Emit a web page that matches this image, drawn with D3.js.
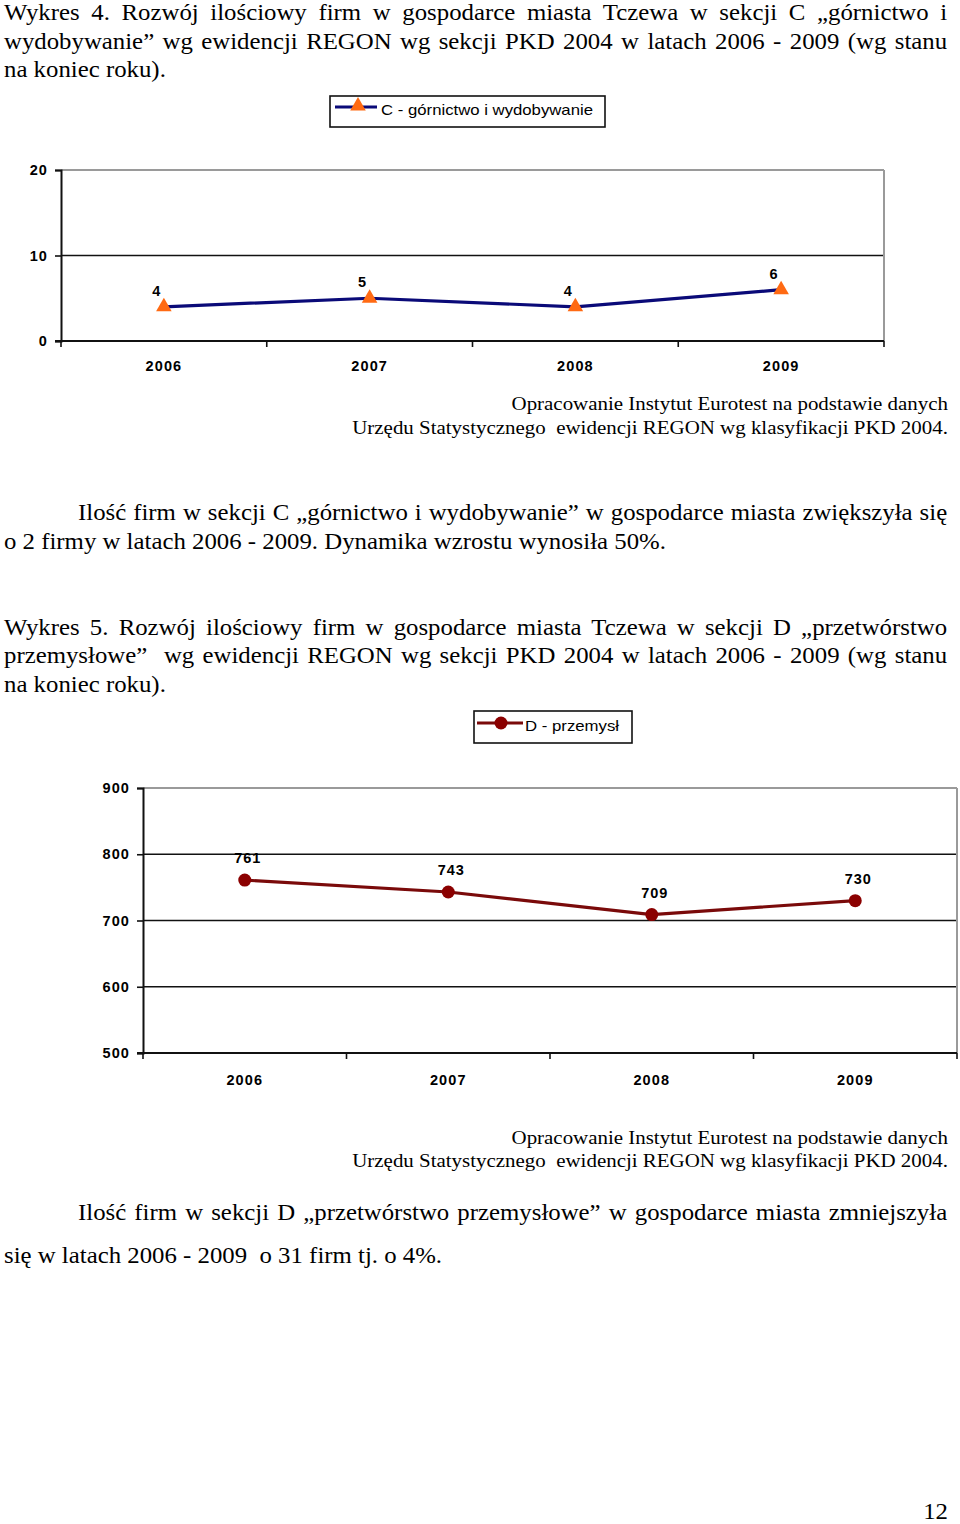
<!DOCTYPE html>
<html><head><meta charset="utf-8">
<script src="https://cdn.jsdelivr.net/npm/d3@7"></script>
<style>
html,body{margin:0;padding:0;background:#fff;}
svg{display:block;}
</style></head>
<body>
<svg id="page" width="960" height="1524"></svg>
<script>
// ---------- data ----------
const years = ["2006", "2007", "2008", "2009"];
const seriesC = [4, 5, 4, 6];
const seriesD = [761, 743, 709, 730];
const yTicksC = [0, 10, 20];
const yTicksD = [500, 600, 700, 800, 900];
const legendC = "C - górnictwo i wydobywanie";
const legendD = "D - przemysł";

const title4 = [
  "Wykres 4. Rozwój ilościowy firm w gospodarce miasta Tczewa w sekcji C „górnictwo i",
  "wydobywanie” wg ewidencji REGON wg sekcji PKD 2004 w latach 2006 - 2009 (wg stanu",
  "na koniec roku)."
];
const source = [
  "Opracowanie Instytut Eurotest na podstawie danych",
  "Urzędu Statystycznego  ewidencji REGON wg klasyfikacji PKD 2004."
];
const para4 = [
  "Ilość firm w sekcji C „górnictwo i wydobywanie” w gospodarce miasta zwiększyła się",
  "o 2 firmy w latach 2006 - 2009. Dynamika wzrostu wynosiła 50%."
];
const title5 = [
  "Wykres 5. Rozwój ilościowy firm w gospodarce miasta Tczewa w sekcji D „przetwórstwo",
  "przemysłowe”  wg ewidencji REGON wg sekcji PKD 2004 w latach 2006 - 2009 (wg stanu",
  "na koniec roku)."
];
const para5 = [
  "Ilość firm w sekcji D „przetwórstwo przemysłowe” w gospodarce miasta zmniejszyła",
  "się w latach 2006 - 2009  o 31 firm tj. o 4%."
];
const pageNo = "12";

// ---------- helpers ----------
const svg = d3.select("#page");
const SERIF = "'Liberation Serif','Times New Roman',serif";
const SANS = "'Liberation Sans',Arial,sans-serif";
const BODY = 23;
const SRC = 19.4;

function measure(str, size) {
  const t = svg.append("text").attr("font-family", SERIF).attr("font-size", size)
    .style("white-space", "pre").text(str);
  const w = t.node().getComputedTextLength();
  t.remove();
  return w;
}
// horizontal factor of the document's serif face
const SX = (166 - 4) / measure("na koniec roku).", BODY);

function textLine(str, x0, y, size, opts = {}) {
  const g = svg.append("g");
  const t = g.append("text")
    .attr("font-family", SERIF).attr("font-size", size).attr("fill", "#000")
    .style("white-space", "pre").text(str);
  const w = t.node().getComputedTextLength();
  let tx = x0;
  if (opts.justifyTo != null) {
    const spaces = (str.match(/ /g) || []).length;
    const extra = (opts.justifyTo - x0) / SX - w;
    t.attr("word-spacing", (extra / spaces) + "px");
  } else if (opts.rightAt != null) {
    tx = opts.rightAt - w * SX;
  }
  g.attr("transform", `translate(${tx},${y}) scale(${SX},1)`);
  return t;
}

// ---------- texts ----------
title4.forEach((s, i) => textLine(s, 4, 20 + i * 28.7, BODY, i < 2 ? {justifyTo: 948} : {}));
textLine(source[0], 0, 410, SRC, {rightAt: 948});
textLine(source[1], 0, 433.5, SRC, {rightAt: 948});
textLine(para4[0], 78, 519.5, BODY, {justifyTo: 948});
textLine(para4[1], 4, 548.5, BODY);
title5.forEach((s, i) => textLine(s, 4, 634.5 + i * 28.7, BODY, i < 2 ? {justifyTo: 948} : {}));
textLine(source[0], 0, 1143.5, SRC, {rightAt: 948});
textLine(source[1], 0, 1167, SRC, {rightAt: 948});
textLine(para5[0], 78, 1220, BODY, {justifyTo: 948});
textLine(para5[1], 4, 1263, BODY);
textLine(pageNo, 0, 1519, BODY, {rightAt: 948});

// ---------- chart builder ----------
function chart(opts) {
  const {values, yTicks, yDomain, xRange, yRange, lineColor, marker, labelDx, labelDy, xPad} = opts;
  const g = svg.append("g");
  const x = d3.scaleBand().domain(years).range(xRange).padding(0);
  const y = d3.scaleLinear().domain(yDomain).range(yRange);
  const [xl, xr] = xRange;
  const [yb, yt] = yRange;

  yTicks.forEach(v => {
    if (v === yDomain[0]) return;
    const isTop = v === yDomain[1];
    g.append("line")
      .attr("x1", xl).attr("x2", xr)
      .attr("y1", y(v)).attr("y2", y(v))
      .attr("stroke", isTop ? "#9a9a9a" : "#111")
      .attr("stroke-width", isTop ? 2 : 1.6);
  });
  g.append("line").attr("x1", xr).attr("x2", xr).attr("y1", yt).attr("y2", yb)
    .attr("stroke", "#9a9a9a").attr("stroke-width", 2);

  const ya = g.append("g").attr("transform", `translate(${xl},0)`)
    .call(d3.axisLeft(y).tickValues(yTicks).tickSize(6).tickPadding(7).tickFormat(d3.format("d")));
  ya.select(".domain").attr("stroke", "#111").attr("stroke-width", 2);
  ya.selectAll(".tick line").attr("stroke", "#111").attr("stroke-width", 1.6);
  ya.selectAll("text").attr("font-family", SANS).attr("font-weight", "bold")
    .attr("font-size", 14.5).attr("letter-spacing", "1.1px").attr("fill", "#000");

  const xa = g.append("g").attr("transform", `translate(0,${yb})`)
    .call(d3.axisBottom(x).tickSize(0).tickPadding(xPad));
  xa.select(".domain").remove();
  xa.selectAll("text").attr("font-family", SANS).attr("font-weight", "bold")
    .attr("font-size", 14.5).attr("letter-spacing", "1.1px").attr("fill", "#000");
  g.append("line").attr("x1", xl - 6).attr("x2", xr).attr("y1", yb).attr("y2", yb)
    .attr("stroke", "#111").attr("stroke-width", 2);
  const bounds = years.map(d => x(d) + x.bandwidth()).concat([x(years[0])]);
  g.selectAll("line.xt").data(bounds).enter().append("line")
    .attr("x1", d => d).attr("x2", d => d).attr("y1", yb).attr("y2", yb + 6)
    .attr("stroke", "#111").attr("stroke-width", 1.6);

  const cx = (d, i) => x(years[i]) + x.bandwidth() / 2;
  const line = d3.line().x((d, i) => cx(d, i)).y(d => y(d));
  g.append("path").datum(values).attr("d", line)
    .attr("fill", "none").attr("stroke", lineColor).attr("stroke-width", 3.2);

  if (marker === "triangle") {
    g.selectAll("path.m").data(values).enter().append("path")
      .attr("d", d3.symbol(d3.symbolTriangle, 105))
      .attr("transform", (d, i) => `translate(${cx(d, i)},${y(d)})`)
      .attr("fill", "#ff6a13");
  } else {
    g.selectAll("circle.m").data(values).enter().append("circle")
      .attr("cx", (d, i) => cx(d, i)).attr("cy", d => y(d)).attr("r", 6.5)
      .attr("fill", "#8b0000");
  }
  g.selectAll("text.lbl").data(values).enter().append("text")
    .attr("x", (d, i) => cx(d, i) + labelDx).attr("y", d => y(d) + labelDy)
    .attr("text-anchor", "middle")
    .attr("font-family", SANS).attr("font-weight", "bold").attr("font-size", 14.5)
    .attr("letter-spacing", "1px").attr("fill", "#000")
    .text(d => d);
}

chart({values: seriesC, yTicks: yTicksC, yDomain: [0, 20], xRange: [61, 884], yRange: [341, 170],
  lineColor: "#0a0a78", marker: "triangle", labelDx: -7, labelDy: -11, xPad: 20});
chart({values: seriesD, yTicks: yTicksD, yDomain: [500, 900], xRange: [143, 957], yRange: [1053, 788],
  lineColor: "#7a0a0a", marker: "circle", labelDx: 3, labelDy: -17, xPad: 22});

// ---------- legends ----------
function legend(x0, y0, w, h, lx1, lx2, my, mx, tx, tEnd, label, color, marker) {
  const g = svg.append("g");
  g.append("rect").attr("x", x0).attr("y", y0).attr("width", w).attr("height", h)
    .attr("fill", "#fff").attr("stroke", "#111").attr("stroke-width", 1.6);
  g.append("line").attr("x1", lx1).attr("x2", lx2).attr("y1", my).attr("y2", my)
    .attr("stroke", color).attr("stroke-width", 3.2);
  if (marker === "triangle") {
    g.append("path").attr("d", d3.symbol(d3.symbolTriangle, 105))
      .attr("transform", `translate(${mx},${my - 1})`).attr("fill", "#ff6a13");
  } else {
    g.append("circle").attr("cx", mx).attr("cy", my).attr("r", 6.5).attr("fill", "#8b0000");
  }
  g.append("text").attr("x", tx).attr("y", my + 8)
    .attr("font-family", SANS).attr("font-size", 15).attr("fill", "#000")
    .attr("textLength", tEnd - tx).attr("lengthAdjust", "spacingAndGlyphs")
    .text(label);
}
legend(330, 96, 275, 31, 335, 377, 107, 358, 381, 593, legendC, "#0a0a78", "triangle");
legend(474, 711, 158, 32, 477, 523, 723, 501, 525, 619, legendD, "#7a0a0a", "circle");
</script>
</body></html>
